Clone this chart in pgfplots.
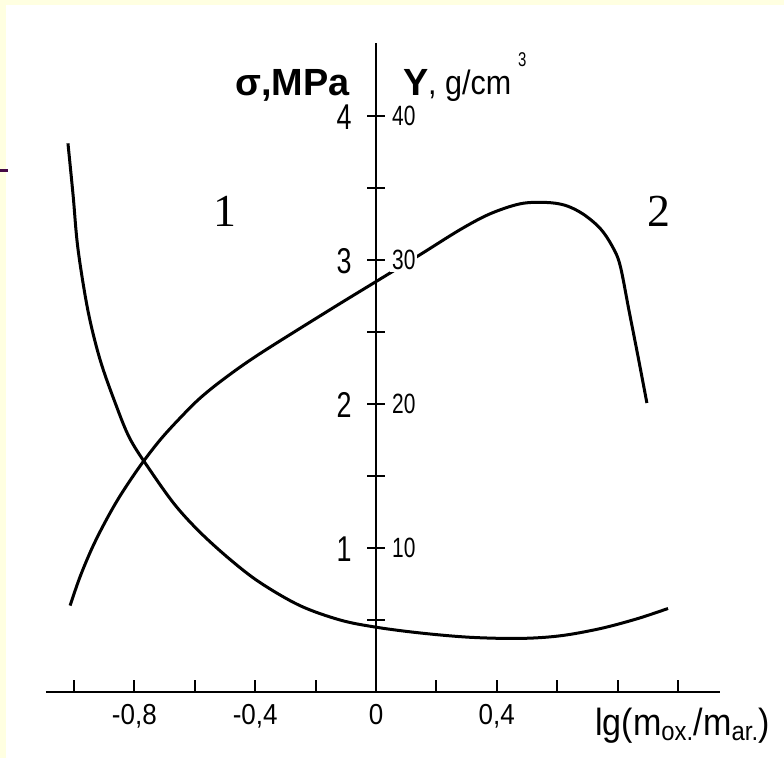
\documentclass[border=0pt]{standalone}
\usepackage{fontspec}
\setmainfont{Liberation Sans}
\newfontfamily\lab[FakeStretch=0.9]{Liberation Sans}
\newfontfamily\labn[FakeStretch=0.75]{Liberation Sans}
\newfontfamily\serif{Liberation Serif}
\usepackage{pgfplots}
\pgfplotsset{compat=1.18}

\definecolor{bgyellow}{RGB}{255,255,225}
\definecolor{dashpurple}{RGB}{70,10,70}

\begin{document}
\begin{tikzpicture}
\useasboundingbox (0,0) rectangle (784bp,758bp);
\fill[bgyellow] (0,0) rectangle (784bp,758bp);
\fill[white] (6bp,0) rectangle (784bp,753bp);
\draw[dashpurple, line width=3bp] (0,587bp) -- (8bp,587bp);

% curves and x axis
\begin{axis}[
    at={(45.914bp,66bp)}, anchor=south west,
    x=302bp, y=144bp,
    xmin=-1.093, xmax=1.139, ymin=0, ymax=4.51,
    axis x line=middle, axis y line=none,
    axis line style={-, line width=2.2bp},
    xtick={-1,-0.8,-0.6,-0.4,-0.2,0,0.2,0.4,0.6,0.8,1},
    xticklabels={,{-0,8},,{-0,4},,0,,{0,4},,,},
    hide obscured x ticks=false,
    ytick=\empty,
    tick align=center, major tick length=12bp,
    xtick style={line width=2bp, black, yshift=6bp},
    x tick label style={font=\lab\fontsize{29}{29}\selectfont, anchor=north, yshift=-3bp},
    clip=false,
]
% 1: sigma
\addplot[black, line width=3bp, smooth, tension=0.55] coordinates {
    (-1.020,3.81) (-1.003,3.45) (-0.987,3.08) (-0.954,2.65) (-0.914,2.31)
    (-0.864,2.01) (-0.815,1.76) (-0.748,1.54) (-0.666,1.30) (-0.583,1.11)
    (-0.483,0.92) (-0.384,0.76) (-0.252,0.60) (-0.119,0.50) (0,0.45)
    (0.146,0.41) (0.311,0.38) (0.477,0.372) (0.609,0.39) (0.742,0.44)
    (0.867,0.51) (0.967,0.58)
};
% 2: gamma
\addplot[black, line width=3bp, smooth, tension=0.55] coordinates {
    (-1.013,0.60) (-0.980,0.80) (-0.940,1.00) (-0.897,1.18) (-0.848,1.36)
    (-0.781,1.57) (-0.715,1.75) (-0.650,1.90) (-0.583,2.04) (-0.500,2.18)
    (-0.384,2.35) (-0.152,2.655) (0,2.85) (0.146,3.037) (0.278,3.21)
    (0.377,3.32) (0.477,3.39) (0.560,3.40) (0.626,3.38) (0.685,3.32)
    (0.742,3.22) (0.781,3.10) (0.808,2.965) (0.838,2.646) (0.868,2.326)
    (0.897,2.007)
};
\end{axis}

% y axis with sigma labels
\begin{axis}[
    at={(376bp,66bp)}, anchor=south west,
    x=302bp, y=144bp,
    xmin=0, xmax=0.1, ymin=0, ymax=4.51,
    axis x line=none, axis y line=left,
    axis line style={-, line width=2.2bp},
    xtick=\empty,
    ytick={0.5,1,1.5,2,2.5,3,3.5,4},
    yticklabels={,1,,2,,3,,4},
    tick align=center, major tick length=18bp,
    ytick style={line width=2.2bp, black},
    y tick label style={font=\labn\fontsize{36}{36}\selectfont, anchor=east, xshift=-12bp, yshift=-1bp},
]
\end{axis}

% gamma labels
\begin{axis}[
    at={(376bp,66bp)}, anchor=south east,
    x=302bp, y=144bp,
    xmin=-0.1, xmax=0, ymin=0, ymax=4.51,
    axis x line=none, axis y line=right,
    axis line style={draw=none},
    xtick=\empty,
    ytick={1,2,3,4},
    yticklabels={10,20,30,40},
    major tick length=0pt,
    y tick label style={font=\labn\fontsize{28}{28}\selectfont, anchor=west,
        fill=white, inner sep=2bp, xshift=14bp},
]
\end{axis}

\node[anchor=base east, font=\bfseries\fontsize{38}{38}\selectfont, inner sep=0pt]
    at (350bp,662bp) {σ,MPa};
\node[anchor=base west, font=\bfseries\fontsize{38}{38}\selectfont, inner sep=0pt]
    at (403bp,662bp) {Y};
\node[anchor=base west, font=\lab\fontsize{34}{34}\selectfont, inner sep=0pt]
    at (428bp,663bp) {, g/cm};
\node[anchor=base west, font=\labn\fontsize{20}{20}\selectfont, inner sep=0pt]
    at (518bp,691bp) {3};
\node[anchor=base, font=\serif\fontsize{46}{46}\selectfont, inner sep=0pt]
    at (225bp,531bp) {1};
\node[anchor=base, font=\serif\fontsize{46}{46}\selectfont, inner sep=0pt]
    at (659bp,531bp) {2};
\node[anchor=base west, font=\lab\fontsize{38}{38}\selectfont, inner sep=0pt]
    at (595bp,23bp) {lg(m\textsubscript{ox.}/m\textsubscript{ar.})};
\end{tikzpicture}
\end{document}
